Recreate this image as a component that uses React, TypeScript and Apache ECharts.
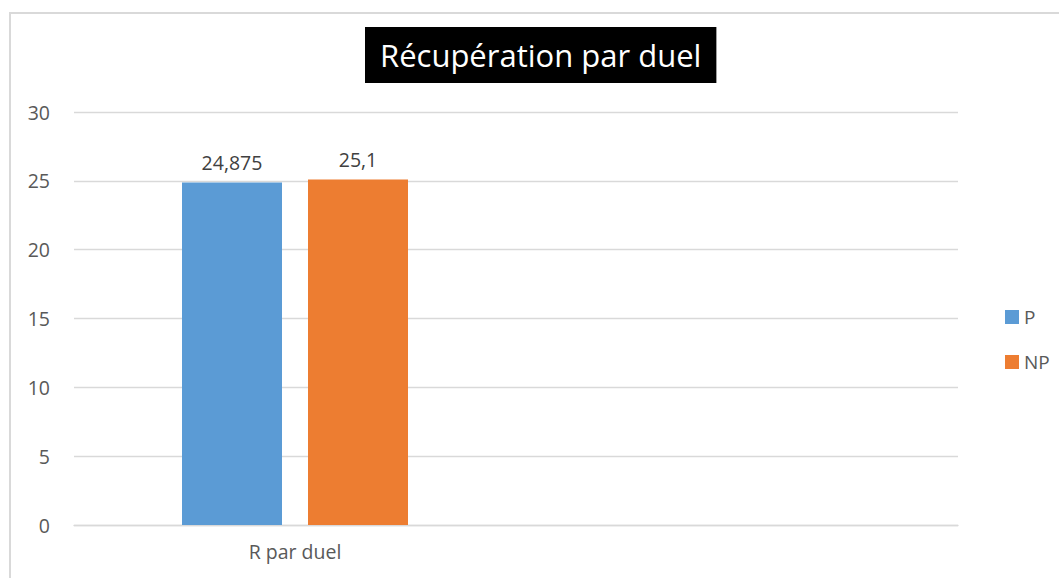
import React, { useEffect, useRef } from "react";
import * as echarts from "echarts";

const categories = ["R par duel", ""];
const seriesP = [24.875, null];
const seriesNP = [25.1, null];
const yTicks = { min: 0, max: 30, interval: 5 };
const titleText = "Récupération par duel";

const FONT = "'Open Sans', 'Noto Sans', sans-serif";

export default function App() {
  const ref = useRef<HTMLDivElement>(null);
  useEffect(() => {
    if (!ref.current) return;
    const chart = echarts.init(ref.current, null, { renderer: "svg" });
    const fmt = (p: any) => String(p.value).replace(".", ",");
    chart.setOption({
      animation: false,
      backgroundColor: "#ffffff",
      textStyle: { fontFamily: FONT },
      title: {
        text: titleText,
        left: 365,
        top: 27,
        padding: [11, 15, 11, 15],
        backgroundColor: "#000000",
        textStyle: {
          color: "#ffffff",
          fontSize: 31,
          fontWeight: "normal",
          fontFamily: FONT,
          lineHeight: 34,
        },
      },
      graphic: [
        {
          type: "rect",
          shape: { x: 10, y: 13, width: 1200, height: 800 },
          style: { fill: "none", stroke: "#d9d9d9", lineWidth: 2 },
          silent: true,
          z: -1,
        },
      ],
      legend: {
        orient: "vertical",
        left: 1000,
        top: 302,
        itemWidth: 14,
        itemHeight: 14,
        itemGap: 25,
        icon: "rect",
        textStyle: { color: "#595959", fontSize: 19, fontFamily: FONT, lineHeight: 20 },
        data: ["P", "NP"],
      },
      grid: { left: 74, right: 101, top: 112, bottom: 53, containLabel: false },
      xAxis: {
        type: "category",
        data: categories,
        axisLine: { lineStyle: { color: "#d9d9d9", width: 1.3 } },
        axisTick: { show: false },
        axisLabel: { color: "#595959", fontSize: 19.5, fontFamily: FONT, margin: 16 },
      },
      yAxis: {
        type: "value",
        min: yTicks.min,
        max: yTicks.max,
        interval: yTicks.interval,
        axisLine: { show: false },
        axisTick: { show: false },
        splitLine: { lineStyle: { color: "#d9d9d9", width: 1.3 } },
        axisLabel: { color: "#595959", fontSize: 19.5, fontFamily: FONT, margin: 24 },
      },
      series: [
        {
          name: "P",
          type: "bar",
          data: seriesP,
          barWidth: 100,
          barGap: "26%",
          itemStyle: { color: "#5b9bd5" },
          label: {
            show: true,
            position: "top",
            distance: 10,
            color: "#404040",
            fontSize: 19.5,
            fontFamily: FONT,
            formatter: fmt,
          },
        },
        {
          name: "NP",
          type: "bar",
          data: seriesNP,
          barWidth: 100,
          barGap: "26%",
          itemStyle: { color: "#ed7d31" },
          label: {
            show: true,
            position: "top",
            distance: 10,
            color: "#404040",
            fontSize: 19.5,
            fontFamily: FONT,
            formatter: fmt,
          },
        },
      ],
    });
    return () => chart.dispose();
  }, []);
  return (
    <div
      ref={ref}
      style={{ position: "fixed", left: 0, top: 0, width: 1059, height: 578 }}
    />
  );
}
